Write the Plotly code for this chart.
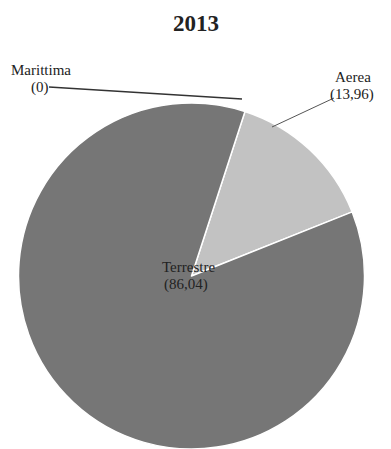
import plotly.graph_objects as go

title_text = "2013"
categories = ["Marittima", "Aerea", "Terrestre"]
values = [0, 13.96, 86.04]
value_labels = ["0", "13,96", "86,04"]
colors = ["#5a5a5a", "#c2c2c2", "#767676"]

# the page body has an 8px margin, so the figure is drawn 8px smaller
OFF = 8
W, H = 391 - OFF, 449 - OFF
def px(x):
    return (x - OFF) / W
def py(y):
    return 1 - (y - OFF) / H

fig = go.Figure(go.Pie(
    labels=categories,
    values=values,
    sort=False,
    direction="clockwise",
    rotation=18,
    marker=dict(colors=colors, line=dict(color="#ffffff", width=1.5)),
    textinfo="none",
    hoverinfo="label+value",
    showlegend=False,
    domain=dict(x=[px(18.5), px(364.5)], y=[0, py(103)]),
))

serif = "Liberation Serif, Times New Roman, serif"
fnt = dict(family=serif, size=15, color="#222")
def lab(x, y, t):
    return dict(x=px(x), y=py(y), text=t, showarrow=False, font=fnt,
                xanchor="center", yanchor="middle", xref="paper", yref="paper")

annotations = [
    lab(41, 70, categories[0]),
    lab(40, 87, "(" + value_labels[0] + ")"),
    lab(353, 77, categories[1]),
    lab(352, 94, "(" + value_labels[1] + ")"),
    lab(188, 267, categories[2]),
    lab(186, 284, "(" + value_labels[2] + ")"),
]

shapes = [
    dict(type="line", xref="paper", yref="paper", x0=px(49), y0=py(87), x1=px(242), y1=py(99),
         line=dict(color="#333", width=1.5)),
    dict(type="line", xref="paper", yref="paper", x0=px(334), y0=py(98), x1=px(272), y1=py(127),
         line=dict(color="#555", width=1)),
]

fig.update_layout(
    width=W, height=H,
    margin=dict(l=0, r=0, t=0, b=0),
    paper_bgcolor="white",
    plot_bgcolor="white",
    title=dict(text="<b>" + title_text + "</b>", x=px(196), xanchor="center", y=py(23), yanchor="middle",
               font=dict(family=serif, size=23, color="#222")),
    annotations=annotations,
    shapes=shapes,
)

fig.write_html("out.html")
